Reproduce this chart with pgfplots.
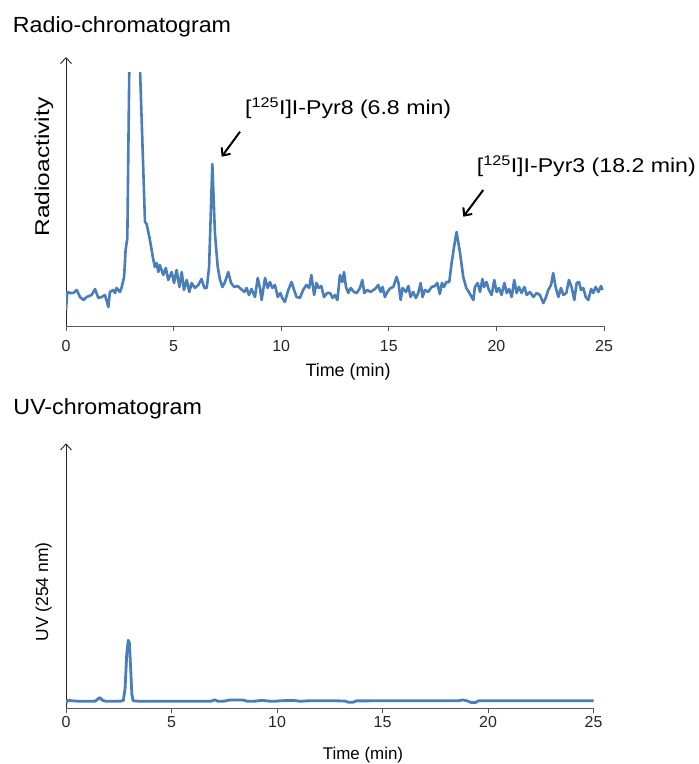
\documentclass[border=0pt]{standalone}
\usepackage{fontspec}
\setmainfont{Liberation Sans}
\newfontfamily\ftitle{Liberation Sans}[FakeStretch=1.06]
\newfontfamily\fnote{Liberation Sans}[FakeStretch=1.16]
\newfontfamily\fylab{Liberation Sans}[FakeStretch=1.23]
\usepackage{pgfplots}
\pgfplotsset{compat=1.18}
\usetikzlibrary{arrows.meta}
\definecolor{trace}{RGB}{74,126,187}
\definecolor{axgray}{RGB}{90,90,90}

\pgfplotsset{chrom/.style={scale only axis, enlargelimits=false, anchor=south west,
  xmin=0, xmax=25, ymin=0, axis x line=bottom, axis y line=left,
  xtick={0,5,...,25}, ytick=\empty, xtick align=outside, major tick length=5bp,
  tick style={axgray, line width=0.8bp},
  x axis line style={-, axgray, line width=0.9bp},
  ticklabel style={font=\fontsize{16}{18}\selectfont, text=black!85},
  /pgf/number format/assume math mode=true}}

\begin{document}
\begin{tikzpicture}
\path[use as bounding box] (0,0) rectangle (699bp,764bp);

% radio trace
\begin{axis}[chrom, at={(66bp,438bp)}, width=538bp, height=253bp, ymax=253,
  xticklabel style={yshift=-6bp},
  y axis line style={-{Straight Barb[length=6bp,width=11bp]}, black!85, line width=0.9bp, shorten >=-16bp}]
\addplot[trace, line width=2.6bp, line join=round] coordinates {
(0,16) (0.06,34) (0.19,33) (0.34,33) (0.50,36) (0.65,29) (0.81,26) (0.96,29) (1.19,31) (1.35,37)
(1.50,28) (1.66,29) (1.81,31) (1.97,19) (2.04,34) (2.20,36) (2.28,33) (2.35,38) (2.51,34) (2.59,39)
(2.70,49) (2.77,76) (2.85,88) (3.05,460) (3.25,380) (3.45,250) (3.67,104) (3.75,102) (3.90,86) (4.06,66)
(4.13,59) (4.21,63) (4.29,54) (4.36,61) (4.52,51) (4.64,58) (4.75,46) (4.91,54) (5.02,43) (5.14,56)
(5.27,39) (5.38,54) (5.48,36) (5.61,46) (5.73,34) (5.84,43) (5.99,38) (6.15,41) (6.30,47) (6.43,38)
(6.54,38) (6.65,59) (6.80,162) (6.92,93) (7.05,59) (7.16,46) (7.27,39) (7.39,44) (7.54,54) (7.67,43)
(7.82,39) (7.98,40) (8.13,37) (8.29,34) (8.39,38) (8.50,31) (8.62,37) (8.78,29) (8.91,48) (9.02,37)
(9.09,26) (9.25,48) (9.37,38) (9.48,44) (9.59,38) (9.71,41) (9.84,29) (9.96,33) (10.05,28) (10.17,24)
(10.33,36) (10.48,44) (10.60,36) (10.71,29) (10.87,28) (11.02,36) (11.17,41) (11.30,38) (11.40,51) (11.53,31)
(11.64,43) (11.74,38) (11.86,40) (11.99,29) (12.14,33) (12.27,33) (12.39,28) (12.50,31) (12.61,26) (12.73,51)
(12.84,44) (12.92,54) (13.01,39) (13.12,33) (13.23,38) (13.38,34) (13.51,33) (13.66,38) (13.77,46) (13.86,33)
(14.00,36) (14.15,34) (14.36,37) (14.51,41) (14.62,34) (14.71,39) (14.82,29) (14.93,34) (15.08,38) (15.21,39)
(15.36,49) (15.45,43) (15.55,26) (15.64,38) (15.80,34) (15.91,40) (16.01,29) (16.13,34) (16.26,28) (16.37,33)
(16.48,43) (16.57,29) (16.68,36) (16.83,34) (16.99,39) (17.14,40) (17.25,43) (17.37,32) (17.47,43) (17.56,39)
(17.68,44) (17.81,44) (17.92,63) (18.03,79) (18.15,94) (18.31,73) (18.46,49) (18.60,38) (18.72,34) (18.85,29)
(18.93,26) (19.00,39) (19.13,43) (19.24,34) (19.35,47) (19.43,39) (19.54,44) (19.65,36) (19.78,31) (19.90,46)
(20.01,34) (20.12,38) (20.24,31) (20.37,43) (20.48,33) (20.59,37) (20.71,29) (20.83,46) (20.94,33) (21.05,39)
(21.17,33) (21.30,39) (21.41,31) (21.56,34) (21.72,29) (21.87,33) (22.02,31) (22.18,23) (22.29,28) (22.41,36)
(22.54,41) (22.64,53) (22.75,39) (22.88,29) (23.00,38) (23.11,31) (23.25,33) (23.37,46) (23.49,39) (23.62,26)
(23.73,43) (23.84,44) (23.93,36) (24.04,38) (24.15,29) (24.27,26) (24.40,37) (24.50,33) (24.61,39) (24.74,34)
(24.86,40) (24.93,36)};
\end{axis}

% UV trace
\begin{axis}[chrom, at={(66bp,55.7bp)}, width=527.6bp, height=265bp, ymax=265,
  y axis line style={-{Straight Barb[length=6bp,width=11bp]}, black!85, line width=0.9bp}]
\addplot[trace, line width=2.8bp, line join=round] coordinates {
(0,5) (0.05,8) (0.3,7.5) (0.6,7) (1.0,7) (1.4,7.2) (1.55,10) (1.62,10.5) (1.72,8) (1.9,7)
(2.3,7) (2.6,7.2) (2.72,8) (2.80,20) (2.88,55) (2.95,68) (3.00,66) (3.06,42) (3.12,14) (3.18,7.5)
(3.5,7) (4.5,7) (5.5,7) (6.5,7) (6.9,7.2) (7.05,8.5) (7.2,7) (7.5,7.2) (7.75,8.2) (8.4,8.2)
(8.6,7) (9.0,7.2) (9.3,8) (9.6,7.2) (9.9,7) (10.2,7.6) (10.8,7.8) (11.1,7) (11.5,7.5) (12.5,7.6)
(13.2,7.3) (13.4,6) (13.6,6) (13.75,7.4) (15,7.5) (16,7.5) (17,7.5) (18,7.5) (18.6,7.6) (18.8,8.4)
(19.0,7.5) (19.2,5.8) (19.4,5.8) (19.55,7.5) (20.5,7.5) (22,7.5) (23.5,7.5) (25,7.5)};
\end{axis}

% titles and labels
\node[anchor=base west, inner sep=0] at (12.7bp,731bp) {\ftitle\fontsize{22}{24}\selectfont Radio-chromatogram};
\node[anchor=base west, inner sep=0] at (13.3bp,349bp) {\ftitle\fontsize{22}{24}\selectfont UV-chromatogram};
\node[anchor=base, inner sep=0] at (348bp,387bp) {\fontsize{18}{20}\selectfont Time (min)};
\node[anchor=base, inner sep=0] at (363bp,5bp) {\fontsize{17}{19}\selectfont Time (min)};
\node[anchor=base, rotate=90, inner sep=0] at (49bp,597bp) {\fylab\fontsize{20}{22}\selectfont Radioactivity};
\node[anchor=base, rotate=90, inner sep=0] at (48bp,172bp) {\fontsize{17.5}{20}\selectfont UV (254 nm)};

% peak annotations
\node[anchor=base west, inner sep=0] at (245bp,649bp) {\fnote\fontsize{20}{22}\selectfont [\textsuperscript{125}I]I-Pyr8 (6.8 min)};
\node[anchor=base west, inner sep=0] at (476.7bp,591bp) {\fnote\fontsize{20}{22}\selectfont [\textsuperscript{125}I]I-Pyr3 (18.2 min)};
\draw[-{Straight Barb[length=6bp,width=11bp]}, line width=2bp] (240bp,632.3bp) -- (221.7bp,607.3bp);
\draw[-{Straight Barb[length=6bp,width=11bp]}, line width=2bp] (483.3bp,574bp) -- (463.3bp,547.3bp);
\end{tikzpicture}
\end{document}
